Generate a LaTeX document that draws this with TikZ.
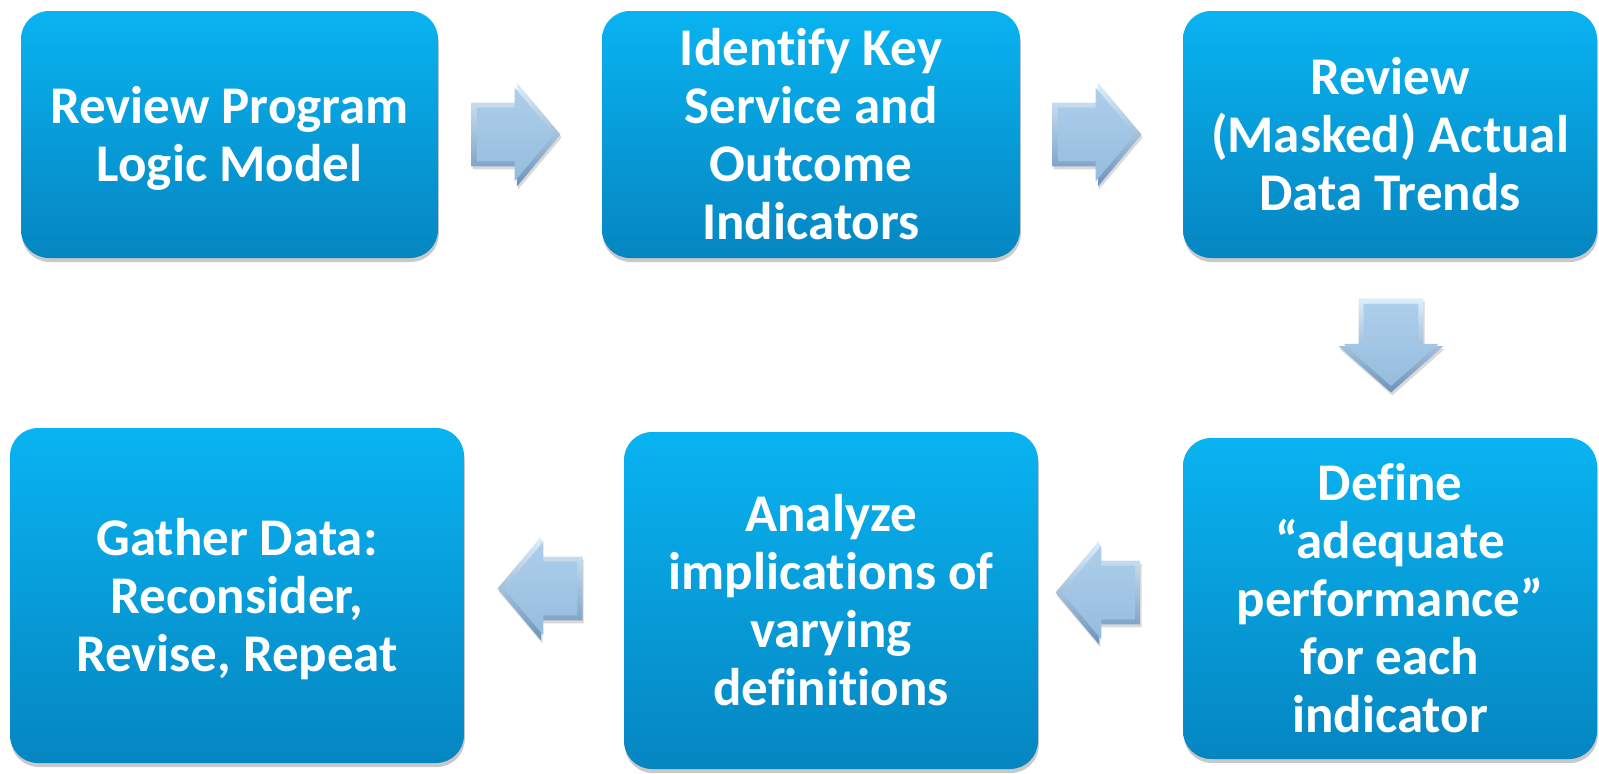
\documentclass[tikz,border=0pt]{standalone}
\usepackage{fontspec}
\setmainfont{Carlito}[Ligatures=NoCommon]
\usetikzlibrary{shapes.arrows,shadows}
\definecolor{boxtop}{HTML}{09B3F1}
\definecolor{boxbot}{HTML}{0586C1}
\definecolor{arrface}{HTML}{9EC6E8}
\definecolor{arrlight}{HTML}{DDEEFA}
\definecolor{arrdark}{HTML}{6A93BC}
% lines of a step label, drawn a little lower than their box is centred
\newcommand{\lowlines}[1]{\raisebox{-3pt}[\height][\depth]{\begin{tabular}{@{}c@{}}#1\end{tabular}}}
\begin{document}
\begin{tikzpicture}[x=0.5pt,y=-0.5pt,
  stepbox/.style={rectangle, rounded corners=14pt, inner sep=2pt,
    top color=boxtop, bottom color=boxbot, draw=none,
    drop shadow={shadow xshift=0.4pt, shadow yshift=-2pt, opacity=0.3, fill=black!70},
    text=white, align=center, font=\bfseries\fontsize{26.5}{29}\selectfont},
  % bevelled block arrow: outer rim, then the inset face on top
  arrowbase/.style={single arrow, anchor=tip, single arrow head extend=10pt,
    single arrow tip angle=100, draw=none},
  arrowrim/.style={arrowbase, minimum height=#1,
    top color=arrlight, bottom color=arrdark,
    drop shadow={shadow xshift=0.6pt, shadow yshift=-1.5pt, opacity=0.25, fill=black!60}},
  arrowface/.style={arrowbase, minimum height=#1,
    top color=arrface!85!white, bottom color=arrface!95!black},
  across/.style={inner xsep=0pt, inner ysep=#1},
  along/.style={inner ysep=0pt, inner xsep=#1}]
  \useasboundingbox (0,0) rectangle (1599,773);

  % upper row
  \node[stepbox, minimum width=208.5pt, minimum height=123.5pt] (logic) at (229.5,134.5)
    {\lowlines{Review Program\\Logic Model}};
  \node[stepbox, minimum width=209pt, minimum height=123.5pt] (indic) at (811,134.5)
    {Identify Key\\Service and\\Outcome\\Indicators};
  \node[stepbox, minimum width=207pt, minimum height=123.5pt] (trend) at (1390,134.5)
    {\lowlines{Review\\(Masked) Actual\\Data Trends}};

  % lower row
  \node[stepbox, minimum width=207pt, minimum height=160.5pt] (define) at (1390,598.5)
    {Define\\“adequate\\performance”\\for each\\indicator};
  \node[stepbox, minimum width=207pt, minimum height=168.5pt] (analyze) at (831,600.5)
    {Analyze\\implications of\\varying\\definitions};
  \node[stepbox, minimum width=227pt, minimum height=167.5pt] (gather) at (237,595.5)
    {\lowlines{Gather Data:\\Reconsider,\\Revise, Repeat}};

  % block arrows between the steps
  \node[arrowrim=44.5pt, across=15.75pt] (a1) at (561,134.5) {};
  \node[arrowface=38.5pt, across=13.25pt, xshift=-3.3pt] (a1f) at (a1.tip) {};
  \node[arrowrim=44.5pt, across=15.75pt] (a2) at (1142,134.5) {};
  \node[arrowface=38.5pt, across=13.25pt, xshift=-3.3pt] (a2f) at (a2.tip) {};
  \node[arrowrim=47pt, along=16pt, shape border rotate=270,
    single arrow tip angle=97] (a3) at (1391,393) {};
  \node[arrowface=41pt, along=13.5pt, shape border rotate=270,
    single arrow tip angle=97, yshift=3.3pt] (a3f) at (a3.tip) {};
  \node[arrowrim=42.5pt, across=15.75pt, shape border rotate=180] (a4) at (1055,592.5) {};
  \node[arrowface=36.5pt, across=13.25pt, shape border rotate=180, xshift=3.3pt] (a4f) at (a4.tip) {};
  \node[arrowrim=42.5pt, across=15.75pt, shape border rotate=180] (a5) at (497,588.5) {};
  \node[arrowface=36.5pt, across=13.25pt, shape border rotate=180, xshift=3.3pt] (a5f) at (a5.tip) {};
\end{tikzpicture}
\end{document}
